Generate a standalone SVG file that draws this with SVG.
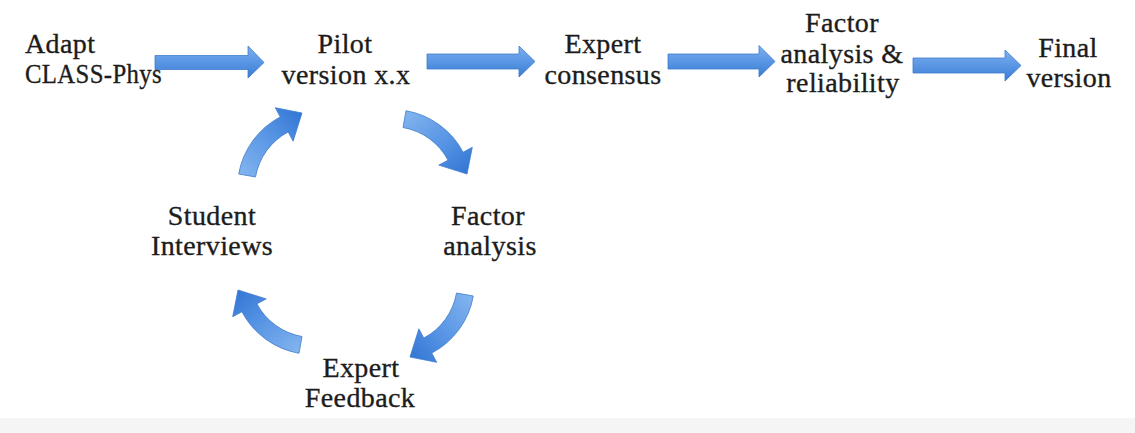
<svg xmlns="http://www.w3.org/2000/svg" width="1135" height="433" viewBox="0 0 1135 433">
<style>
  text { font-family: "Liberation Serif", "Times New Roman", serif; font-size: 28px; letter-spacing: 0.4px; fill: #1c1c1c; stroke: #1c1c1c; stroke-width: 0.35px; }
  .c { text-anchor: middle; }
  .arrow { stroke: #3f7ccc; stroke-width: 0.8; stroke-linejoin: round; }
  .straight { fill: url(#gStraight); }
  .curved { fill: url(#gCurved); }
</style>
<defs>
  <linearGradient id="gStraight" x1="0" y1="0" x2="0" y2="1">
    <stop offset="0" stop-color="#7db1ef"/>
    <stop offset="0.5" stop-color="#5a96e4"/>
    <stop offset="1" stop-color="#3a7bd3"/>
  </linearGradient>
  <linearGradient id="gCurved" x1="0" y1="1" x2="1" y2="0">
    <stop offset="0" stop-color="#85b6f0"/>
    <stop offset="0.55" stop-color="#5794e4"/>
    <stop offset="1" stop-color="#2f73d3"/>
  </linearGradient>
  <path id="curveArrow" d="M238.7,174.0 A80.5,80.5 0 0 1 280.2,116.9 L275.3,107.7 L302,113 L293.1,141.2 L288.2,131.9 A63.5,63.5 0 0 0 255.5,177.0 Z"/>
</defs>
<rect width="1135" height="433" fill="#ffffff"/>
<rect x="0" y="418" width="1135" height="15" fill="#f5f5f5"/>

<g id="connectors">
  <path class="arrow straight" d="M155,55.5 H248 V46 L264,62.5 L248,78 V69.5 H155 Z"/>
  <path class="arrow straight" d="M427,54 H519 V46 L535,61.5 L519,77 V69 H427 Z"/>
  <path class="arrow straight" d="M668,54 H759 V45.5 L775,61.5 L759,77 V69 H668 Z"/>
  <path class="arrow straight" d="M913,58 H1005 V50 L1021,65.5 L1005,81 V73 H913 Z"/>
  <use href="#curveArrow" class="arrow curved"/>
  <use href="#curveArrow" class="arrow curved" transform="rotate(90 354 226)"/>
  <use href="#curveArrow" class="arrow curved" transform="translate(4 18) rotate(180 354 226)"/>
  <use href="#curveArrow" class="arrow curved" transform="translate(-3 12) rotate(270 354 226)"/>
</g>

<g id="adapt"><text x="25" y="53">Adapt</text><text x="25" y="83" textLength="137" lengthAdjust="spacingAndGlyphs">CLASS-Phys</text></g>
<g id="pilot"><text class="c" x="345" y="53">Pilot</text><text class="c" x="346" y="84">version x.x</text></g>
<g id="expert-consensus"><text class="c" x="603" y="53">Expert</text><text class="c" x="603" y="84">consensus</text></g>
<g id="factor-reliability"><text class="c" x="842" y="32">Factor</text><text class="c" x="842" y="63">analysis &amp;</text><text class="c" x="843" y="92">reliability</text></g>
<g id="final"><text class="c" x="1068" y="57">Final</text><text class="c" x="1069" y="87">version</text></g>
<g id="student"><text class="c" x="212" y="225">Student</text><text class="c" x="212" y="255">Interviews</text></g>
<g id="factor-analysis"><text class="c" x="488" y="225">Factor</text><text class="c" x="490" y="255">analysis</text></g>
<g id="expert-feedback"><text class="c" x="361" y="377">Expert</text><text class="c" x="360" y="407">Feedback</text></g>
</svg>
